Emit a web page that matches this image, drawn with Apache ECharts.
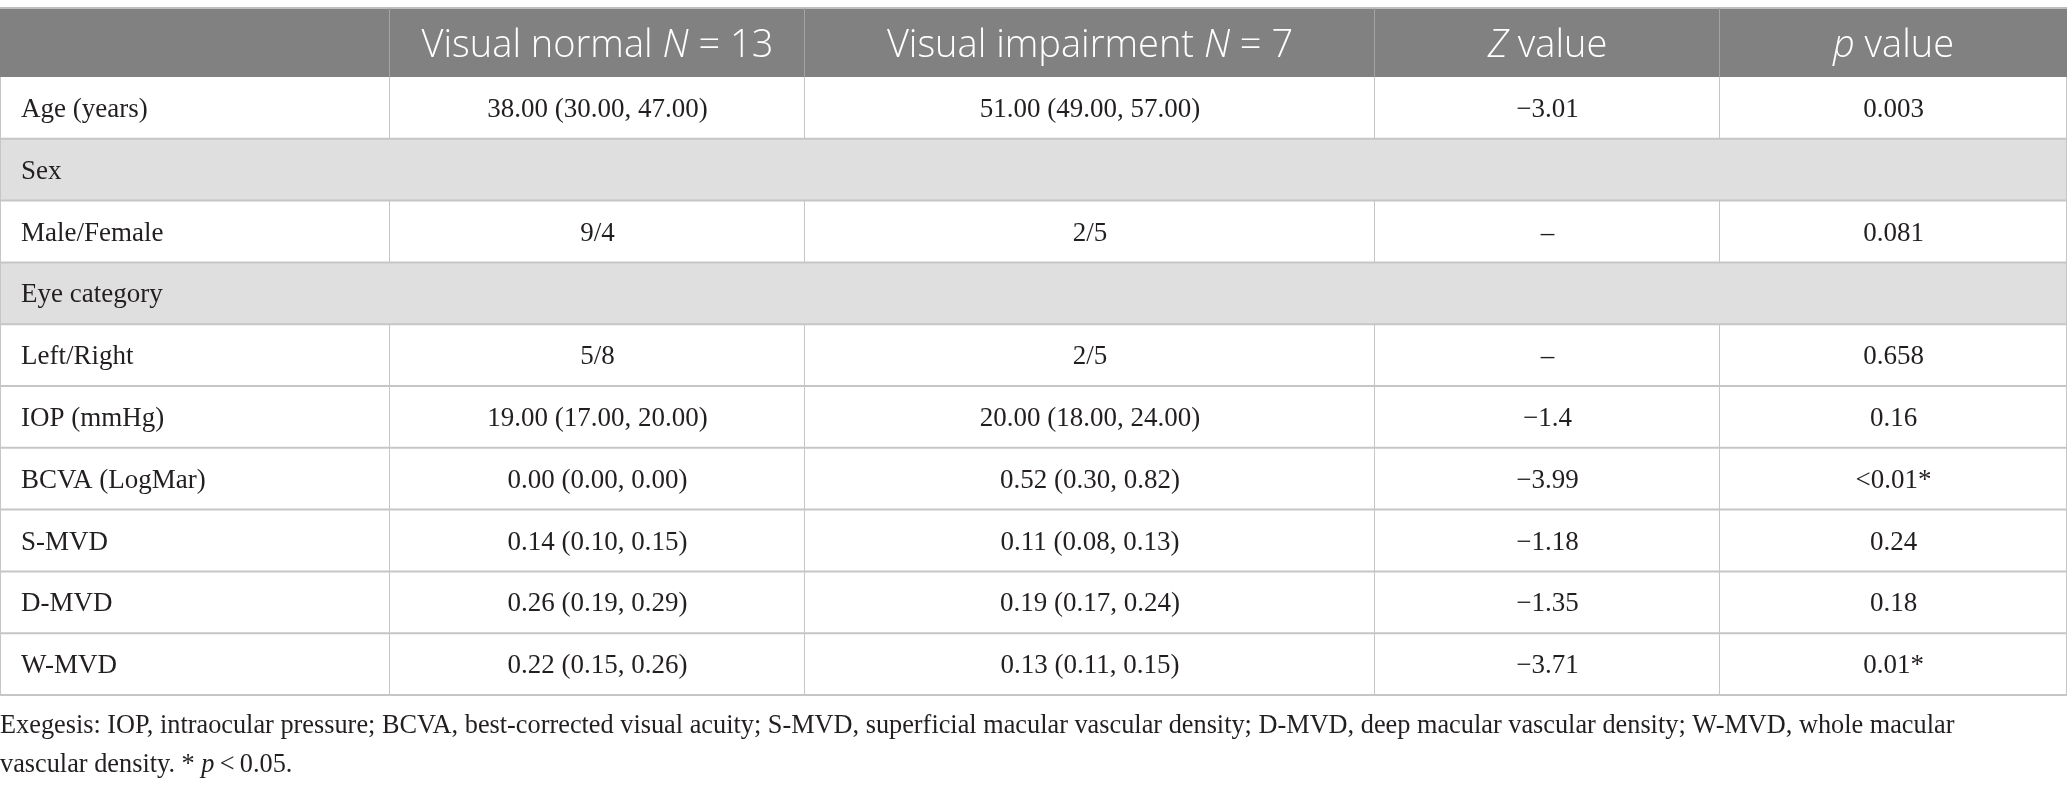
<!DOCTYPE html>
<html>
<head>
<meta charset="utf-8">
<style>
html,body{margin:0;padding:0;background:#ffffff;}
#c{width:2067px;height:791px;}
</style>
<script src="https://cdn.jsdelivr.net/npm/echarts@6/dist/echarts.min.js"></script>
</head>
<body>
<div id="c"></div>
<script>
// ---------- data ----------
const headerLabels = ['', 'Visual normal {i|N} = 13', 'Visual impairment {i|N} = 7', '{i|Z} value', '{i|p} value'];
const rowLabels = ['Age (years)', 'Sex', 'Male/Female', 'Eye category', 'Left/Right', 'IOP (mmHg)', 'BCVA (LogMar)', 'S-MVD', 'D-MVD', 'W-MVD'];
const sectionRows = ['Sex', 'Eye category'];
const visualNormal = ['38.00 (30.00, 47.00)', '', '9/4', '', '5/8', '19.00 (17.00, 20.00)', '0.00 (0.00, 0.00)', '0.14 (0.10, 0.15)', '0.26 (0.19, 0.29)', '0.22 (0.15, 0.26)'];
const visualImpairment = ['51.00 (49.00, 57.00)', '', '2/5', '', '2/5', '20.00 (18.00, 24.00)', '0.52 (0.30, 0.82)', '0.11 (0.08, 0.13)', '0.19 (0.17, 0.24)', '0.13 (0.11, 0.15)'];
const zValues = ['\u22123.01', '', '\u2013', '', '\u2013', '\u22121.4', '\u22123.99', '\u22121.18', '\u22121.35', '\u22123.71'];
const pValues = ['0.003', '', '0.081', '', '0.658', '0.16', '<0.01*', '0.24', '0.18', '0.01*'];
const footnoteLine1 = 'Exegesis: IOP, intraocular pressure; BCVA, best-corrected visual acuity; S-MVD, superficial macular vascular density; D-MVD, deep macular vascular density; W-MVD, whole macular';
const footnoteLine2 = 'vascular density. * {i|p}\u2009<\u20090.05.';

// ---------- layout ----------
const W = 2067;
const colEdges = [0, 390, 805, 1375, 1720, 2067];
const columns = [rowLabels, visualNormal, visualImpairment, zValues, pValues];
const SERIF = '"Liberation Serif", "Times New Roman", serif';
const SANS = '"Open Sans", "Noto Sans", sans-serif';
const TEXT_COLOR = '#231f20';
const LINE_COLOR = '#c6c6c6';

const headerData = headerLabels.map((t, i) => [i, 0]);
const bodyData = [];
rowLabels.forEach((lab, r) => {
  if (sectionRows.indexOf(lab) >= 0) {
    bodyData.push([0, r, 5]);
  } else {
    for (let c = 0; c < 5; c++) bodyData.push([c, r, 1]);
  }
});

function cellBox(api) {
  const c = api.value(0), r = api.value(1), span = api.value(2) || 1;
  const p0 = api.coord([colEdges[c], r]);
  const p1 = api.coord([colEdges[c + span], r]);
  const h = api.size([0, 1])[1];
  return { c, r, span, x0: p0[0], x1: p1[0], yc: p0[1], y0: p0[1] - h / 2, y1: p0[1] + h / 2, h };
}

const chart = echarts.init(document.getElementById('c'), null, { renderer: 'canvas' });
chart.setOption({
  animation: false,
  backgroundColor: '#ffffff',
  grid: [
    { left: 0, top: 8, width: W, height: 69 },
    { left: 0, top: 77, width: W, height: 618 }
  ],
  xAxis: [
    { type: 'value', gridIndex: 0, min: 0, max: W, show: false },
    { type: 'value', gridIndex: 1, min: 0, max: W, show: false }
  ],
  yAxis: [
    { type: 'category', gridIndex: 0, data: ['header'], inverse: true, show: false },
    { type: 'category', gridIndex: 1, data: rowLabels, inverse: true, show: false }
  ],
  series: [
    {
      type: 'custom', xAxisIndex: 0, yAxisIndex: 0, z: 2,
      data: headerData,
      renderItem: function (params, api) {
        const b = cellBox(api);
        const children = [
          { type: 'rect', shape: { x: b.x0, y: b.y0, width: b.x1 - b.x0, height: b.h }, style: { fill: '#808180' } },
          { type: 'line', shape: { x1: b.x0, y1: b.y0, x2: b.x1, y2: b.y0 }, style: { stroke: '#bdbdbd', lineWidth: 2 } }
        ];
        if (b.c < 4) {
          children.push({ type: 'line', shape: { x1: b.x1 - 0.5, y1: b.y0, x2: b.x1 - 0.5, y2: b.y1 }, style: { stroke: '#a3a3a3', lineWidth: 1 } });
        }
        children.push({
          type: 'text',
          style: {
            x: (b.x0 + b.x1) / 2, y: b.yc + 4,
            text: headerLabels[b.c],
            align: 'center', verticalAlign: 'middle',
            fill: '#ffffff',
            font: '300 38px ' + SANS,
            rich: { i: { fontStyle: 'italic', fontSize: 38, fontWeight: 300, fontFamily: SANS, fill: '#ffffff' } }
          }
        });
        return { type: 'group', children: children };
      }
    },
    {
      type: 'custom', xAxisIndex: 1, yAxisIndex: 1, z: 2,
      data: bodyData,
      renderItem: function (params, api) {
        const b = cellBox(api);
        const isSection = b.span > 1;
        return {
          type: 'rect',
          shape: { x: b.x0, y: b.y0, width: b.x1 - b.x0, height: b.h },
          style: { fill: isSection ? '#e0dfe0' : '#ffffff' }
        };
      }
    },
    {
      type: 'custom', xAxisIndex: 1, yAxisIndex: 1, z: 3,
      data: bodyData,
      renderItem: function (params, api) {
        const b = cellBox(api);
        const children = [
          { type: 'line', shape: { x1: b.x0, y1: b.y1, x2: b.x1, y2: b.y1 }, style: { stroke: LINE_COLOR, lineWidth: 2 } },
          { type: 'line', shape: { x1: b.x1 - 0.5, y1: b.y0, x2: b.x1 - 0.5, y2: b.y1 }, style: { stroke: LINE_COLOR, lineWidth: 1 } }
        ];
        if (b.c === 0) {
          children.push({ type: 'line', shape: { x1: b.x0 + 0.5, y1: b.y0, x2: b.x0 + 0.5, y2: b.y1 }, style: { stroke: LINE_COLOR, lineWidth: 1 } });
        }
        const txt = columns[b.c][b.r];
        children.push({
          type: 'text',
          style: {
            x: b.c === 0 ? b.x0 + 21 : (b.x0 + b.x1) / 2,
            y: b.yc + 2,
            text: txt,
            align: b.c === 0 ? 'left' : 'center',
            verticalAlign: 'middle',
            fill: TEXT_COLOR,
            font: '27px ' + SERIF
          }
        });
        return { type: 'group', children: children };
      }
    }
  ],
  graphic: [
    {
      type: 'text', left: 0, top: 713,
      style: { text: footnoteLine1, font: '26.3px ' + SERIF, fill: TEXT_COLOR }
    },
    {
      type: 'text', left: 0, top: 752,
      style: {
        text: footnoteLine2, font: '26.3px ' + SERIF, fill: TEXT_COLOR,
        rich: { i: { fontStyle: 'italic', fontSize: 26.3, fontFamily: SERIF, fill: TEXT_COLOR } }
      }
    }
  ]
});
</script>
</body>
</html>
